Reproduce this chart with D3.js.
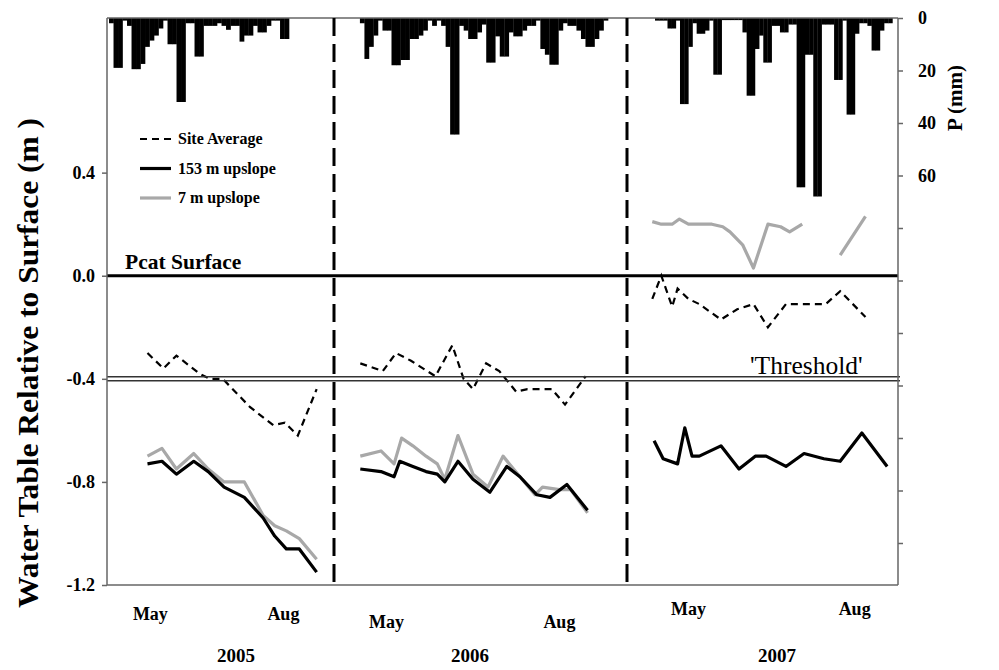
<!DOCTYPE html>
<html>
<head>
<meta charset="utf-8">
<script src="https://cdn.jsdelivr.net/npm/d3@7"></script>
<style>
  body { margin: 0; background: #fff; }
  text { font-family: 'Liberation Serif', 'Times New Roman', serif; }
</style>
</head>
<body>
<div id="chart"></div>
<script>
// rainfall bars (mm), in order through each season
const rain2005 = [2, 19, 19, 1, 3, 19.5, 19.5, 17.5, 11, 8.6, 6.7, 4, 1, 10, 10, 32, 32, 2, 2, 14.7,
  14.7, 3, 3, 3, 2, 3, 4.5, 3, 3, 9, 6.7, 6.7, 3, 5.5, 5.5, 3, 1, 1, 8, 8]
const rain2006 = [2, 15.6, 11, 6.7, 1, 4.8, 4.8, 18, 18, 16, 16, 8, 8, 6.7, 4.8, 1, 3, 1, 3, 11,
  44.4, 44.4, 3, 4.8, 8, 8, 5.5, 2.5, 17, 17, 7, 14.7, 14.7, 5.5, 7, 7, 4.8, 3, 3, 1,
  11.8, 14, 17.8, 17.8, 4.8, 2, 3, 3, 4.8, 8, 11, 11, 8, 4.8, 1]
const rain2007 = [1, 1, 1, 4, 4, 1, 32.8, 32.8, 11, 2, 6, 6, 4.8, 1, 21.6, 21.6, 0.8, 0.8, 0.8, 0.8,
  0.8, 5.5, 29.6, 29.6, 11.8, 6.7, 17, 17, 3, 3, 5.5, 5.5, 2.5, 2.5, 64.5, 64.5, 14, 14, 68, 68,
  2.5, 2.5, 2.5, 23.6, 23.6, 1, 36.8, 36.8, 6, 2, 2, 3, 12.4, 12.4, 4.8, 2, 2]

// water table (m relative to peat surface), day of year
const avgDays2005 = [133, 144, 153, 169, 176, 185, 204, 220, 228, 237, 250]
const avgWT2005 = [-0.30, -0.36, -0.31, -0.38, -0.40, -0.40, -0.51, -0.58, -0.57, -0.62, -0.44]
const wellDays2005 = [133, 143, 153, 165, 175, 186, 200, 213, 221, 229, 238, 250]
const up153_2005 = [-0.73, -0.72, -0.77, -0.72, -0.76, -0.82, -0.86, -0.94, -1.01, -1.06, -1.06, -1.15]
const up7_2005 = [-0.70, -0.67, -0.75, -0.69, -0.75, -0.80, -0.80, -0.93, -0.97, -0.99, -1.02, -1.10]

const avgDays2006 = [121, 133, 140, 148, 161, 170, 176, 181, 188, 195, 204, 210, 217, 223, 230, 241]
const avgWT2006 = [-0.34, -0.37, -0.30, -0.33, -0.39, -0.27, -0.40, -0.44, -0.34, -0.37, -0.45, -0.44,
  -0.44, -0.44, -0.50, -0.39]
const days153_2006 = [121, 132, 139, 142, 149, 156, 162, 166, 173, 181, 190, 199, 206, 215, 222, 231, 242]
const up153_2006 = [-0.75, -0.76, -0.78, -0.72, -0.74, -0.76, -0.77, -0.80, -0.72, -0.79, -0.84, -0.74,
  -0.78, -0.85, -0.86, -0.81, -0.91]
const days7_2006 = [121, 132, 139, 143, 149, 156, 162, 166, 173, 181, 189, 197, 206, 214, 218, 227, 233, 242]
const up7_2006 = [-0.70, -0.68, -0.73, -0.63, -0.66, -0.70, -0.73, -0.79, -0.62, -0.77, -0.82, -0.70,
  -0.78, -0.85, -0.82, -0.83, -0.83, -0.92]

const avgDays2007 = [115, 120, 126, 129, 135, 141, 153, 162, 171, 179, 189, 197, 211, 219, 233]
const avgWT2007 = [-0.09, 0.00, -0.12, -0.05, -0.09, -0.11, -0.17, -0.13, -0.11, -0.20, -0.11, -0.11,
  -0.11, -0.06, -0.16]
const days153_2007 = [116, 121, 129, 133, 137, 141, 153, 163, 172, 178, 189, 199, 210, 219, 231, 245]
const up153_2007 = [-0.64, -0.71, -0.73, -0.59, -0.70, -0.70, -0.66, -0.75, -0.70, -0.70, -0.74, -0.69,
  -0.71, -0.72, -0.61, -0.74]
const days7_2007 = [115, 120, 126, 130, 135, 141, 148, 154, 158, 165, 171, 179, 186, 191, 198, 208, 219, 233]
const up7_2007 = [0.21, 0.20, 0.20, 0.22, 0.20, 0.20, 0.20, 0.19, 0.17, 0.12, 0.03, 0.20, 0.19, 0.17,
  0.20, null, 0.08, 0.23]

const years = ['2005', '2006', '2007']
const monthLabels = ['May', 'Aug']
const monthDays = [135, 227]
const wtTicks = [0.4, 0.0, -0.4, -0.8, -1.2]
const pTicks = [0, 20, 40, 60, 80, 100, 120, 140, 160, 180, 200]
const seriesNames = ['Site Average', '153 m upslope', '7 m upslope']

const zip = (days, vals) => days.map((d, i) => ({ day: d, v: vals[i] }))

const panels = [
  { x0: 107, x1: 334, d0: 105, d1: 262, r0: 106.4, r1: 230.9, rain: rain2005, monthY: 620, yearX: 236,
    avg: zip(avgDays2005, avgWT2005), w153: zip(wellDays2005, up153_2005), w7: zip(wellDays2005, up7_2005) },
  { x0: 334, x1: 627, d0: 107, d1: 263, r0: 120.8, r1: 252.9, rain: rain2006, monthY: 628, yearX: 470,
    avg: zip(avgDays2006, avgWT2006), w153: zip(days153_2006, up153_2006), w7: zip(days7_2006, up7_2006) },
  { x0: 627, x1: 898, d0: 101, d1: 251, r0: 116.5, r1: 247.9, rain: rain2007, monthY: 615, yearX: 777,
    avg: zip(avgDays2007, avgWT2007), w153: zip(days153_2007, up153_2007), w7: zip(days7_2007, up7_2007) }
]

const plotLeft = 107
const plotRight = 898
const plotTop = 18
const plotBottom = 585

const svg = d3.select('#chart')
  .append('svg')
  .attr('width', 999)
  .attr('height', 670)

const yWT = d3.scaleLinear().domain([-1.2, 1.0]).range([plotBottom, plotTop])
const yP = d3.scaleLinear().domain([0, 216]).range([plotTop, plotBottom])

panels.forEach((p, pi) => {
  const x = d3.scaleLinear().domain([p.d0, p.d1]).range([p.x0, p.x1])

  // rain bars hanging from the top
  const xb = d3.scaleBand()
    .domain(d3.range(p.rain.length))
    .range([x(p.r0), x(p.r1)])
    .padding(0)

  svg.append('g')
    .selectAll('rect')
    .data(p.rain)
    .enter()
    .append('rect')
    .attr('x', (d, i) => xb(i))
    .attr('width', xb.bandwidth() + 0.3)
    .attr('y', yP(0))
    .attr('height', d => yP(d) - yP(0))
    .attr('fill', '#000')

  const line = d3.line()
    .defined(d => d.v !== null)
    .x(d => x(d.day))
    .y(d => yWT(d.v))

  svg.append('path')
    .datum(p.w7)
    .attr('d', line)
    .attr('fill', 'none')
    .attr('stroke', '#a8a8a8')
    .attr('stroke-width', 3.2)
    .attr('stroke-linejoin', 'round')

  svg.append('path')
    .datum(p.w153)
    .attr('d', line)
    .attr('fill', 'none')
    .attr('stroke', '#000')
    .attr('stroke-width', 3.2)
    .attr('stroke-linejoin', 'round')

  svg.append('path')
    .datum(p.avg)
    .attr('d', line)
    .attr('fill', 'none')
    .attr('stroke', '#000')
    .attr('stroke-width', 2.2)
    .attr('stroke-dasharray', '7,5')

  // month and year labels
  svg.selectAll('.month' + pi)
    .data(monthLabels)
    .enter()
    .append('text')
    .attr('class', 'month' + pi)
    .attr('x', (d, i) => x(monthDays[i]))
    .attr('y', p.monthY)
    .attr('text-anchor', 'middle')
    .attr('font-size', 18)
    .attr('font-weight', 'bold')
    .text(d => d)

  svg.append('text')
    .attr('x', p.yearX)
    .attr('y', 662)
    .attr('text-anchor', 'middle')
    .attr('font-size', 19)
    .attr('font-weight', 'bold')
    .text(years[pi])
})

// frame lines
svg.append('line')
  .attr('x1', plotLeft).attr('x2', plotRight)
  .attr('y1', plotTop).attr('y2', plotTop)
  .attr('stroke', '#666').attr('stroke-width', 1.5)

svg.append('line')
  .attr('x1', plotLeft).attr('x2', plotRight)
  .attr('y1', plotBottom).attr('y2', plotBottom)
  .attr('stroke', '#666').attr('stroke-width', 1.5)

// year separators
svg.selectAll('.sep')
  .data(panels.slice(1))
  .enter()
  .append('line')
  .attr('class', 'sep')
  .attr('x1', d => d.x0).attr('x2', d => d.x0)
  .attr('y1', plotTop).attr('y2', plotBottom)
  .attr('stroke', '#000')
  .attr('stroke-width', 3)
  .attr('stroke-dasharray', '18,8')

// peat surface
svg.append('line')
  .attr('x1', plotLeft).attr('x2', plotRight)
  .attr('y1', yWT(0)).attr('y2', yWT(0))
  .attr('stroke', '#000').attr('stroke-width', 3)

// threshold double line
svg.selectAll('.thr')
  .data([-2, 2])
  .enter()
  .append('line')
  .attr('class', 'thr')
  .attr('x1', plotLeft).attr('x2', plotRight + 2)
  .attr('y1', d => yWT(-0.4) + d).attr('y2', d => yWT(-0.4) + d)
  .attr('stroke', '#333').attr('stroke-width', 1.4)

svg.append('text')
  .attr('x', 125)
  .attr('y', yWT(0) - 7)
  .attr('font-size', 21.5)
  .attr('font-weight', 'bold')
  .text('Pcat Surface')

svg.append('text')
  .attr('x', 750)
  .attr('y', yWT(-0.4) - 5)
  .attr('font-size', 25.5)
  .text("'Threshold'")

// axes
const yAxis = d3.axisLeft(yWT)
  .tickValues(wtTicks)
  .tickFormat(d => d.toFixed(1))
  .tickSize(5)
  .tickSizeOuter(0)

svg.append('g')
  .attr('class', 'axis y-axis')
  .attr('transform', 'translate(' + plotLeft + ',0)')
  .call(yAxis)

const pAxis = d3.axisRight(yP)
  .tickValues(pTicks)
  .tickFormat(d => (d <= 60 ? d : ''))
  .tickSize(5)
  .tickSizeOuter(0)

svg.append('g')
  .attr('class', 'axis p-axis')
  .attr('transform', 'translate(' + plotRight + ',0)')
  .call(pAxis)

svg.selectAll('.axis path, .axis line')
  .attr('stroke', '#666')
  .attr('stroke-width', 1.5)

svg.selectAll('.axis .domain')
  .attr('d', 'M0,' + plotTop + 'V' + plotBottom)

svg.selectAll('.axis text')
  .attr('font-family', "'Liberation Serif', 'Times New Roman', serif")
  .attr('font-size', 18)
  .attr('font-weight', 'bold')
  .attr('fill', '#000')

svg.selectAll('.y-axis text').attr('x', -12)
svg.selectAll('.p-axis text').attr('x', 20)

// axis titles
svg.append('text')
  .attr('transform', 'translate(38,363) rotate(-90)')
  .attr('text-anchor', 'middle')
  .attr('font-size', 29)
  .attr('font-weight', 'bold')
  .attr('textLength', 490)
  .attr('lengthAdjust', 'spacingAndGlyphs')
  .text('Water Table Relative to Surface (m )')

svg.append('text')
  .attr('transform', 'translate(962,98) rotate(-90)')
  .attr('text-anchor', 'middle')
  .attr('font-size', 21)
  .attr('font-weight', 'bold')
  .text('P (mm)')

// legend
const legendStyles = [
  { color: '#000', width: 2.2, dash: '7,5' },
  { color: '#000', width: 3.2, dash: null },
  { color: '#a8a8a8', width: 3.2, dash: null }
]

const legend = svg.append('g')
  .selectAll('g')
  .data(seriesNames)
  .enter()
  .append('g')
  .attr('transform', (d, i) => 'translate(140,' + (139 + i * 29.5) + ')')

legend.append('line')
  .attr('x1', 0).attr('x2', 31)
  .attr('stroke', (d, i) => legendStyles[i].color)
  .attr('stroke-width', (d, i) => legendStyles[i].width)
  .attr('stroke-dasharray', (d, i) => legendStyles[i].dash)

legend.append('text')
  .attr('x', 38)
  .attr('y', 5)
  .attr('font-size', 16)
  .attr('font-weight', 'bold')
  .text(d => d)
</script>
</body>
</html>
